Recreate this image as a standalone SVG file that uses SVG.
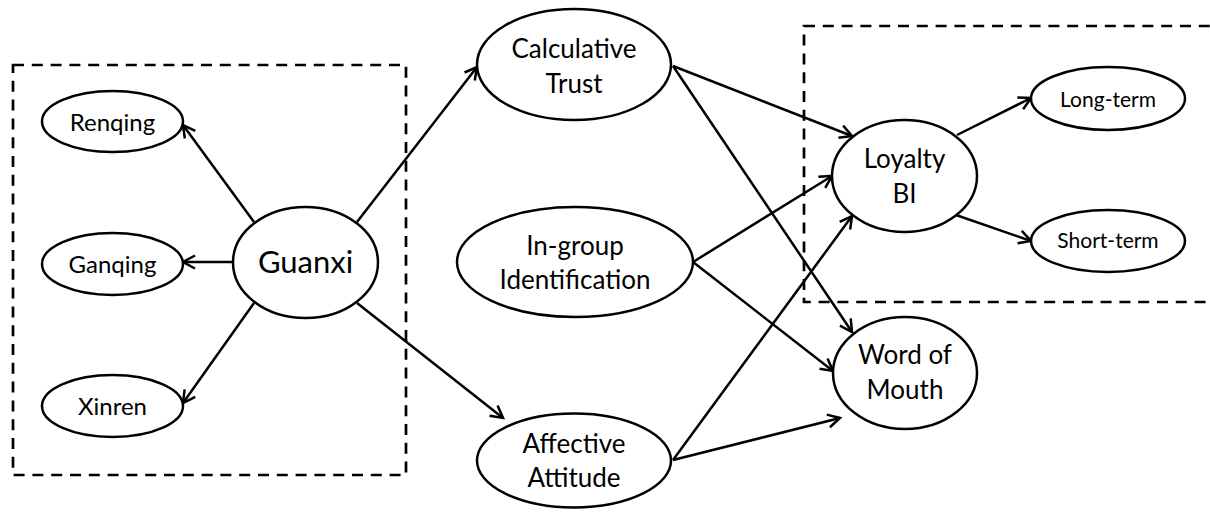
<svg xmlns="http://www.w3.org/2000/svg" width="1210" height="518" viewBox="0 0 1210 518">
<style>
.n ellipse{fill:#fff;stroke:#000;stroke-width:2.5}
text{font-family:Lato,"Liberation Sans",sans-serif;fill:#000;text-anchor:middle}
.b{font-size:26px}
.s{font-size:24px}
.xs{font-size:21px}
.g{font-size:31px}
.box{fill:none;stroke:#000;stroke-width:2.7;stroke-dasharray:11,7.8}
.c line{stroke:#000;stroke-width:2.5;marker-end:url(#ah)}
</style>
<defs>
<marker id="ah" markerUnits="userSpaceOnUse" markerWidth="30" markerHeight="30" viewBox="-15 -15 30 30" refX="0" refY="0" orient="auto">
<path d="M-12,-6.5 L0,0 L-12,6.5" fill="none" stroke="#000" stroke-width="2.5" stroke-linejoin="miter"/>
</marker>
</defs>
<g id="boxes">
<rect class="box" x="13" y="65" width="393" height="410"/>
<rect class="box" x="804" y="26" width="420" height="276"/>
</g>
<g class="c" id="connectors">
<line x1="254" y1="222" x2="183" y2="125"/>
<line x1="233" y1="262" x2="183" y2="262"/>
<line x1="254" y1="303" x2="183" y2="403"/>
<line x1="357" y1="222" x2="477" y2="67"/>
<line x1="357" y1="303" x2="503" y2="418"/>
<line x1="673" y1="66" x2="852" y2="136"/>
<line x1="673" y1="66" x2="852" y2="332"/>
<line x1="693" y1="262" x2="832" y2="176"/>
<line x1="693" y1="262" x2="833" y2="371"/>
<line x1="673" y1="460" x2="852" y2="216"/>
<line x1="673" y1="460" x2="840" y2="418"/>
<line x1="957" y1="135" x2="1031" y2="98"/>
<line x1="956" y1="215" x2="1031" y2="241"/>
</g>
<g class="n" id="renqing"><ellipse cx="112.5" cy="121.5" rx="70.5" ry="30.5"/><text class="s" x="112.5" y="131">Renqing</text></g>
<g class="n" id="ganqing"><ellipse cx="112.5" cy="264" rx="70.5" ry="31"/><text class="s" x="112.5" y="273">Ganqing</text></g>
<g class="n" id="xinren"><ellipse cx="112.5" cy="406" rx="70.5" ry="31"/><text class="s" x="112.5" y="415">Xinren</text></g>
<g class="n" id="guanxi"><ellipse cx="305.5" cy="262.5" rx="72.5" ry="55.5"/><text class="g" x="305.5" y="273">Guanxi</text></g>
<g class="n" id="calculative"><ellipse cx="574" cy="64.5" rx="97" ry="55.5"/><text class="b" x="574" y="58">Calculative</text><text class="b" x="574" y="93">Trust</text></g>
<g class="n" id="ingroup"><ellipse cx="575" cy="262" rx="118" ry="55"/><text class="b" x="575" y="255">In-group</text><text class="b" x="575" y="289">Identification</text></g>
<g class="n" id="affective"><ellipse cx="574" cy="460.5" rx="97" ry="47"/><text class="b" x="574" y="453">Affective</text><text class="b" x="574" y="487">Attitude</text></g>
<g class="n" id="loyalty"><ellipse cx="904.5" cy="176" rx="72.5" ry="56"/><text class="b" x="904.5" y="168">Loyalty</text><text class="b" x="904.5" y="203">BI</text></g>
<g class="n" id="wom"><ellipse cx="905" cy="373" rx="72" ry="56"/><text class="b" x="905" y="364">Word of</text><text class="b" x="905" y="399">Mouth</text></g>
<g class="n" id="longterm"><ellipse cx="1108" cy="98.5" rx="77" ry="31.5"/><text class="xs" x="1108" y="107">Long-term</text></g>
<g class="n" id="shortterm"><ellipse cx="1108" cy="241" rx="77" ry="31"/><text class="xs" x="1108" y="248">Short-term</text></g>
</svg>
